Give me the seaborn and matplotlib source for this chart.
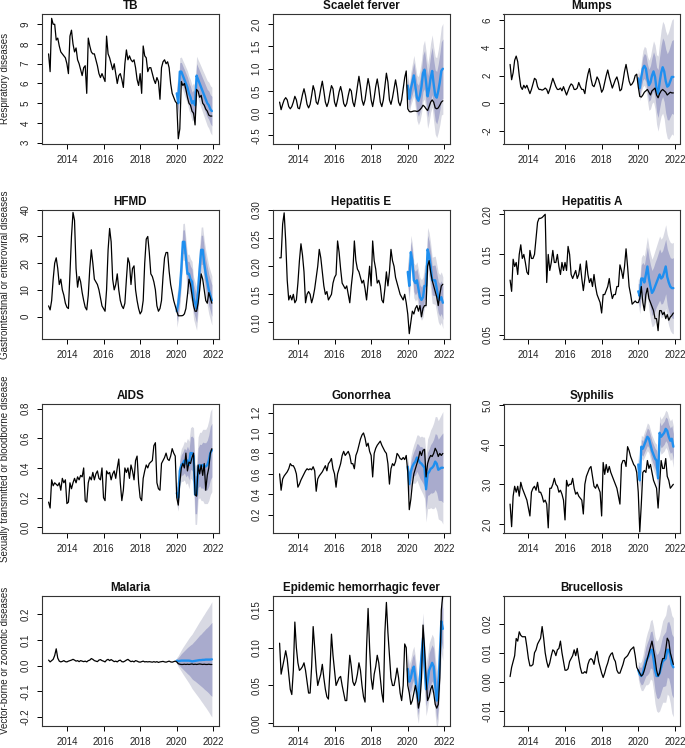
import numpy as np
import pandas as pd
import matplotlib
matplotlib.use("Agg")
import matplotlib.pyplot as plt
import seaborn as sns

# ---------------- data (monthly, Jan 2013 - Dec 2021) ----------------
titles = ["TB", "Scaelet ferver", "Mumps", "HFMD", "Hepatitis E", "Hepatitis A",
          "AIDS", "Gonorrhea", "Syphilis", "Malaria", "Epidemic hemorrhagic fever", "Brucellosis"]
row_labels = ["Respiratory diseases", "Gastrointestinal or enteroviral diseases",
              "Sexually transmitted or bloodborne disease", "Vector-borne or zoonotic diseases"]
x_ticks = [2014, 2016, 2018, 2020, 2022]

tb_actual = [7.5, 6.6, 9.3, 9.0, 9.0, 8.2, 8.3, 7.9, 7.6, 7.5, 7.4, 7.3,
             7.0, 6.5, 8.4, 8.7, 8.0, 7.6, 7.8, 7.2, 7.0, 6.7, 6.4, 6.8,
             6.9, 5.5, 8.3, 7.9, 7.6, 7.5, 7.5, 7.2, 6.9, 6.5, 6.3, 6.5,
             6.3, 6.1, 8.4, 7.5, 7.3, 7.0, 6.7, 7.0, 6.5, 6.0, 6.4, 6.5,
             6.2, 5.8, 7.0, 7.7, 7.2, 7.4, 7.2, 7.1, 7.2, 6.8, 6.2, 5.9,
             6.5, 5.5, 7.9, 7.4, 7.3, 6.6, 6.8, 6.8, 6.5, 6.2, 6.0, 6.3,
             6.1, 5.2, 6.8, 7.1, 7.2, 7.0, 7.1, 6.8, 6.0, 5.5, 5.3, 5.1,
             5.0, 3.2, 3.7, 6.1, 5.9, 6.0, 5.7, 5.3, 5.0, 4.9, 4.6, 4.5,
             3.9, 5.7, 5.6, 5.3, 5.4, 5.0, 4.9, 4.7, 4.6, 4.4, 4.35, 4.35]
tb_fc = [5.5, 5.0, 6.6, 6.6, 6.4, 6.2, 6.0, 5.8, 5.5, 5.3, 5.0, 5.1,
         4.9, 6.4, 6.2, 6.0, 5.8, 5.6, 5.4, 5.2, 5.0, 4.9, 4.7, 4.6]
tb_hw80 = [.42, .44, .45, .47, .48, .50, .51, .52, .54, .55, .56, .58,
           .60, .61, .62, .64, .65, .66, .68, .69, .70, .72, .73, .75]
tb_hw95 = [.66, .69, .71, .74, .76, .79, .81, .83, .86, .88, .90, .93,
           .96, .98, 1.0, 1.03, 1.05, 1.07, 1.1, 1.12, 1.14, 1.17, 1.19, 1.21]

sf_actual = [.25, .08, .20, .30, .35, .30, .15, .10, .15, .25, .38, .30,
             .12, .10, .25, .42, .55, .40, .20, .12, .20, .40, .62, .50,
             .25, .20, .35, .55, .72, .50, .25, .15, .25, .45, .62, .55,
             .25, .15, .30, .48, .60, .45, .22, .15, .22, .40, .55, .50,
             .25, .15, .35, .60, .83, .60, .30, .18, .30, .55, .78, .60,
             .30, .15, .35, .60, .77, .55, .25, .15, .30, .60, .90, .70,
             .30, .20, .35, .55, .75, .55, .25, .17, .30, .55, .80, .95,
             .10, .04, .03, .04, .05, .05, .04, .05, .08, .12, .18, .15,
             .10, .06, .15, .25, .30, .25, .12, .10, .12, .18, .25, .28]
sf_fc = [.62, .32, .55, .70, .85, .60, .35, .28, .40, .60, .90, .98,
         .70, .38, .55, .80, .95, .65, .40, .35, .50, .70, .95, 1.0]
sf_hw80 = [.18, .21, .24, .27, .29, .31, .33, .35, .37, .39, .41, .43,
           .45, .47, .49, .51, .53, .55, .57, .59, .61, .63, .65, .67]
sf_hw95 = [.28, .33, .37, .41, .45, .48, .51, .54, .57, .60, .63, .66,
           .69, .72, .75, .78, .81, .84, .87, .90, .93, .96, .99, 1.02]

mu_actual = [2.8, 1.7, 2.2, 3.1, 3.4, 3.0, 2.0, 1.2, 1.0, 1.3, 1.1, 1.3,
             1.0, 0.7, 1.0, 1.4, 1.8, 1.7, 1.2, 1.0, 1.0, 0.95, 1.0, 1.1,
             1.0, 0.7, 1.0, 1.4, 1.8, 1.5, 1.2, 1.0, 1.0, 1.1, 0.9, 1.2,
             0.9, 0.6, 0.9, 1.2, 1.4, 1.3, 1.0, 1.0, 1.1, 1.5, 1.2, 1.0,
             1.0, 0.7, 1.5, 2.1, 2.5, 1.8, 1.3, 1.2, 1.5, 1.9, 1.7, 1.3,
             0.8, 1.0, 1.5, 2.0, 2.4, 1.9, 1.5, 1.1, 1.4, 1.7, 1.9, 1.5,
             0.9, 1.0, 1.6, 2.3, 2.8, 2.2, 1.6, 1.3, 1.4, 1.6, 2.0, 2.1,
             1.2, 0.5, 0.45, 0.6, 0.8, 0.9, 1.0, 0.8, 0.6, 0.9, 1.0, 1.1,
             0.6, 0.4, 0.7, 0.9, 1.0, 0.9, 0.8, 0.6, 0.7, 0.8, 0.75, 0.75]
mu_fc = [1.8, 1.1, 1.9, 2.5, 2.7, 2.5, 1.8, 1.3, 1.5, 2.0, 2.3, 1.9,
         1.0, 0.7, 1.5, 2.2, 2.6, 2.3, 1.6, 1.2, 1.3, 1.6, 1.9, 1.9]
mu_hw80 = [.45, .58, .70, .83, .90, .96, 1.03, 1.15, 1.22, 1.28, 1.41, 1.47,
           1.6, 1.73, 1.86, 1.98, 2.11, 2.18, 2.3, 2.37, 2.5, 2.56, 2.62, 2.69]
mu_hw95 = [.70, .90, 1.1, 1.3, 1.4, 1.5, 1.6, 1.8, 1.9, 2.0, 2.2, 2.3,
           2.5, 2.7, 2.9, 3.1, 3.3, 3.4, 3.6, 3.7, 3.9, 4.0, 4.1, 4.2]

hf_actual = [4.0, 2.5, 6.0, 14, 20, 22, 18, 12, 14, 10, 8, 5,
             3.5, 3.0, 16, 30, 39, 36, 18, 11, 15, 13, 9, 6,
             3.5, 2.5, 8, 18, 25, 20, 14, 13, 12, 10, 7, 4,
             3, 2, 10, 25, 33, 28, 14, 10, 12, 16, 10, 6,
             4, 3, 5, 14, 22, 20, 12, 18, 19, 10, 6, 3,
             1, 2, 6, 20, 29, 30, 24, 16, 15, 13, 10, 4,
             2, 3, 6, 15, 22, 24, 24, 17, 12, 9, 6, 4,
             2, 0.3, 0.3, 0.3, 0.4, 1, 3, 8, 14, 12, 8, 4,
             2, 2, 5, 10, 16, 14, 10, 6, 5, 9, 7, 5]
hf_fc = [2, 5, 10, 18, 28, 28, 22, 16, 16, 14, 13, 7,
         5, 3, 10, 18, 25, 25, 20, 16, 13, 10, 8, 6]
hf_hw80 = [3.8, 4.0, 4.1, 4.2, 4.4, 4.5, 4.5, 4.7, 4.7, 4.9, 4.9, 5.1,
           5.1, 5.2, 5.3, 5.4, 5.4, 5.5, 5.6, 5.6, 5.7, 5.8, 5.8, 5.9]
hf_hw95 = [6.0, 6.2, 6.4, 6.6, 6.8, 7.0, 7.1, 7.3, 7.4, 7.6, 7.7, 7.9,
           8.0, 8.1, 8.3, 8.4, 8.5, 8.6, 8.7, 8.8, 8.9, 9.0, 9.1, 9.2]

he_actual = [.215, .215, .275, .295, .245, .175, .14, .148, .14, .15, .135, .14,
             .17, .21, .24, .22, .19, .135, .15, .155, .15, .135, .145, .16,
             .18, .20, .23, .215, .19, .165, .15, .155, .14, .145, .15, .17,
             .18, .185, .245, .225, .195, .17, .165, .16, .165, .15, .135, .165,
             .19, .245, .21, .195, .19, .18, .17, .175, .16, .14, .17, .20,
             .165, .245, .21, .195, .17, .175, .165, .14, .135, .16, .19, .165,
             .19, .23, .21, .20, .18, .17, .16, .15, .145, .14, .15, .135,
             .115, .08, .10, .12, .115, .125, .13, .12, .13, .11, .125, .13,
             .13, .20, .21, .19, .175, .165, .155, .145, .13, .15, .165, .168]
he_fc = [.19, .165, .225, .21, .175, .17, .175, .16, .145, .14, .145, .165,
         .165, .23, .22, .20, .175, .175, .175, .16, .145, .14, .145, .135]
he_hw80 = [.018, .019, .019, .020, .020, .021, .021, .022, .022, .023, .023, .024,
           .024, .025, .025, .026, .026, .027, .027, .028, .028, .029, .029, .030]
he_hw95 = [.028, .029, .030, .031, .031, .032, .033, .034, .035, .036, .036, .037,
           .038, .039, .040, .041, .041, .042, .043, .044, .044, .045, .045, .046]

ha_actual = [.118, .104, .144, .135, .14, .125, .15, .162, .145, .15, .14, .128,
             .125, .155, .145, .145, .15, .17, .19, .195, .195, .196, .198, .20,
             .115, .15, .13, .14, .155, .14, .14, .15, .135, .125, .14, .13,
             .14, .13, .16, .15, .125, .12, .125, .13, .12, .125, .138, .12,
             .105, .12, .142, .125, .115, .12, .11, .125, .11, .10, .095, .09,
             .077, .10, .10, .105, .11, .12, .105, .095, .10, .10, .11, .11,
             .137, .13, .12, .135, .157, .135, .11, .10, .088, .09, .092, .09,
             .09, .095, .11, .09, .08, .10, .108, .095, .09, .085, .08, .07,
             .07, .055, .08, .08, .075, .078, .07, .075, .068, .072, .074, .077]
ha_fc = [.104, .098, .12, .12, .115, .125, .135, .12, .11, .102, .105, .11,
         .115, .12, .125, .12, .122, .128, .135, .122, .115, .11, .108, .108]
ha_hw80 = [.010, .015, .017, .020, .022, .023, .024, .026, .027, .028, .029, .030,
           .030, .031, .032, .032, .033, .034, .034, .035, .036, .036, .037, .038]
ha_hw95 = [.015, .022, .026, .030, .033, .035, .037, .039, .041, .042, .044, .045,
           .046, .047, .048, .049, .050, .051, .052, .053, .054, .055, .056, .057]

ai_actual = [.17, .13, .32, .28, .30, .29, .28, .30, .25, .33, .30, .32,
             .16, .17, .30, .26, .30, .33, .30, .34, .32, .35, .34, .40,
             .18, .17, .30, .34, .32, .37, .32, .36, .38, .33, .32, .40,
             .20, .18, .38, .36, .37, .32, .36, .38, .33, .40, .46, .30,
             .18, .25, .40, .37, .40, .33, .42, .38, .32, .45, .48, .30,
             .20, .18, .33, .38, .42, .40, .43, .44, .45, .55, .57, .30,
             .26, .25, .43, .45, .47, .50, .46, .45, .48, .53, .50, .48,
             .20, .15, .30, .40, .43, .40, .50, .38, .44, .43, .47, .50,
             .22, .21, .42, .36, .42, .35, .43, .25, .35, .40, .50, .53]
ai_fc = [.23, .20, .38, .42, .43, .45, .43, .45, .42, .50, .50, .48,
         .22, .22, .40, .42, .41, .42, .41, .41, .42, .45, .50, .52]
ai_hw80 = [.05, .06, .064, .07, .077, .083, .09, .096, .10, .11, .115, .12,
           .128, .128, .134, .14, .147, .154, .16, .16, .166, .173, .18, .18]
ai_hw95 = [.08, .09, .10, .11, .12, .13, .14, .15, .16, .17, .18, .19,
           .20, .20, .21, .22, .23, .24, .25, .25, .26, .27, .28, .28]

go_actual = [.60, .44, .55, .58, .60, .62, .65, .70, .68, .68, .65, .60,
             .47, .50, .54, .57, .60, .63, .65, .64, .65, .64, .67, .63,
             .43, .55, .58, .60, .62, .65, .68, .63, .70, .72, .75, .65,
             .60, .47, .60, .65, .70, .78, .82, .78, .80, .82, .78, .70,
             .70, .65, .78, .82, .88, .94, .98, 1.0, .95, .87, .90, .82,
             .78, .57, .80, .85, .88, .90, .92, .88, .85, .82, .80, .70,
             .50, .65, .70, .68, .72, .80, .78, .75, .74, .76, .74, .78,
             .62, .25, .35, .50, .60, .65, .70, .75, .82, .78, .83, .84,
             .57, .70, .75, .78, .77, .80, .85, .82, .77, .80, .78, .80]
go_fc = [.67, .50, .62, .67, .70, .72, .76, .74, .71, .70, .68, .66,
         .45, .60, .62, .65, .66, .68, .72, .70, .64, .65, .66, .66]
go_hw80 = [.062, .08, .093, .105, .118, .13, .136, .149, .155, .167, .174, .186,
           .198, .21, .223, .236, .248, .26, .273, .285, .298, .31, .322, .34]
go_hw95 = [.10, .13, .15, .17, .19, .21, .22, .24, .25, .27, .28, .30,
           .32, .34, .36, .38, .40, .42, .44, .46, .48, .50, .52, .55]

sy_actual = [2.5, 1.93, 2.7, 2.95, 2.8, 2.95, 2.7, 3.05, 2.9, 2.8, 2.7, 2.6,
             2.4, 2.2, 2.8, 2.9, 2.95, 2.85, 3.05, 2.8, 2.8, 2.7, 2.55, 2.6,
             2.5, 1.9, 2.9, 2.9, 3.0, 3.15, 3.0, 2.95, 2.8, 2.85, 2.75, 2.6,
             2.1, 3.1, 2.95, 3.0, 3.0, 3.15, 2.9, 2.75, 2.8, 2.7, 2.65, 2.6,
             2.25, 3.0, 3.2, 3.3, 3.4, 3.45, 3.2, 2.95, 2.9, 3.0, 2.9, 2.8,
             2.2, 3.55, 3.25, 3.5, 3.3, 3.45, 3.3, 3.2, 3.1, 3.0, 2.9, 2.7,
             2.5, 3.5, 3.6, 3.6, 3.45, 3.95, 3.85, 3.7, 3.6, 3.5, 3.45, 3.3,
             2.8, 1.8, 2.5, 3.3, 3.35, 3.3, 3.6, 3.4, 3.5, 3.3, 3.1, 3.0,
             2.9, 2.4, 3.0, 3.6, 3.4, 3.4, 3.65, 3.2, 3.1, 2.9, 2.95, 3.0]
sy_fc = [3.5, 3.1, 3.95, 3.9, 4.0, 4.1, 4.2, 4.15, 4.0, 3.85, 3.75, 3.65,
         3.6, 3.15, 4.3, 4.2, 4.25, 4.3, 4.4, 4.35, 4.2, 4.1, 4.15, 3.95]
sy_hw80 = [.16, .17, .19, .19, .20, .21, .22, .23, .24, .24, .25, .26,
           .26, .27, .28, .28, .29, .29, .30, .31, .31, .32, .33, .33]
sy_hw95 = [.25, .27, .29, .30, .32, .33, .35, .36, .37, .38, .39, .40,
           .41, .42, .43, .44, .45, .46, .47, .48, .49, .50, .51, .52]

ma_actual = [.022, .015, .020, .025, .040, .066, .030, .018, .015, .017, .020, .016,
             .015, .018, .020, .022, .025, .022, .018, .020, .016, .020, .018, .016,
             .018, .015, .020, .022, .028, .025, .020, .018, .016, .022, .024, .020,
             .018, .015, .022, .025, .020, .024, .020, .016, .018, .015, .020, .022,
             .016, .015, .018, .022, .025, .020, .016, .018, .015, .020, .018, .015,
             .014, .016, .018, .015, .016, .015, .016, .015, .014, .016, .014, .016,
             .013, .015, .016, .017, .015, .014, .016, .018, .015, .014, .016, .018,
             .015, .008, .006, .005, .005, .006, .005, .006, .005, .006, .007, .005,
             .006, .005, .006, .007, .006, .005, .006, .005, .005, .006, .005, .005]
ma_fc = [.020, .018, .019, .020, .020, .020, .020, .020, .020, .019, .017, .018,
         .019, .020, .021, .022, .022, .023, .023, .024, .024, .024, .024, .025]
ma_hw80 = [.008, .014, .020, .027, .033, .039, .045, .051, .056, .062, .068, .074,
           .079, .085, .091, .097, .102, .108, .114, .120, .125, .131, .138, .144]
ma_hw95 = [.012, .022, .032, .042, .052, .061, .070, .079, .088, .097, .106, .115,
           .124, .133, .142, .151, .160, .169, .178, .187, .196, .205, .215, .225]

eh_actual = [.106, .065, .075, .085, .096, .085, .065, .045, .038, .07, .134, .10,
             .08, .07, .072, .075, .08, .07, .055, .04, .04, .075, .128, .10,
             .07, .05, .058, .065, .078, .06, .045, .035, .032, .07, .118, .09,
             .07, .05, .055, .06, .062, .05, .04, .03, .03, .06, .09, .075,
             .055, .05, .055, .065, .08, .07, .05, .035, .028, .10, .152, .10,
             .06, .045, .065, .075, .09, .08, .06, .04, .028, .12, .16, .12,
             .09, .06, .05, .05, .06, .073, .06, .04, .03, .05, .105, .10,
             .05, .04, .025, .03, .04, .05, .04, .02, .03, .06, .13, .10,
             .06, .03, .035, .045, .05, .04, .025, .02, .025, .06, .15, .17]
eh_fc = [.072, .055, .06, .07, .075, .06, .04, .03, .06, .09, .113, .075,
         .045, .055, .07, .075, .08, .075, .05, .03, .045, .09, .135, .125]
eh_hw80 = [.014, .015, .016, .017, .017, .018, .019, .019, .020, .020, .021, .022,
           .022, .022, .023, .024, .024, .024, .025, .026, .026, .026, .027, .027]
eh_hw95 = [.022, .024, .025, .026, .027, .028, .029, .030, .031, .032, .033, .034,
           .035, .035, .036, .037, .038, .038, .039, .040, .040, .041, .042, .042]

br_actual = [.0018, .005, .007, .009, .0149, .014, .0172, .016, .0155, .0155, .0155, .012,
             .008, .0055, .0055, .006, .010, .011, .013, .014, .015, .019, .015, .010,
             .007, .005, .0065, .009, .011, .0105, .009, .011, .0115, .014, .010, .007,
             .004, .004, .0045, .007, .008, .009, .011, .009, .0115, .008, .005, .003,
             .003, .0035, .003, .006, .0075, .008, .0075, .006, .009, .0105, .007, .005,
             .003, .0015, .003, .005, .0065, .0085, .0095, .010, .008, .007, .004, .003,
             .003, .0045, .006, .008, .0085, .009, .010, .011, .0115, .012, .009, .005,
             .004, .003, .002, .0025, .004, .006, .008, .010, .012, .014, .011, .008,
             .004, .002, .003, .006, .008, .008, .011, .015, .014, .010, .008, .006]
br_fc = [.004, .0025, .002, .003, .005, .007, .008, .009, .011, .011, .008, .004,
         .002, .002, .003, .005, .007, .0075, .008, .011, .011, .009, .006, .005]
br_hw80 = [.0019, .0025, .0031, .0037, .0043, .005, .0056, .0059, .0062, .0065, .0068, .0071,
           .0074, .0078, .0081, .0084, .0087, .009, .0093, .0094, .0098, .0101, .0104, .0105]
br_hw95 = [.003, .004, .005, .006, .007, .008, .009, .0095, .010, .0105, .011, .0115,
           .012, .0125, .013, .0135, .014, .0145, .015, .0152, .0158, .0163, .0168, .017]

# y-axis ticks (labels as printed)
y_ticks = [
    ([3, 4, 5, 6, 7, 8, 9], ["3", "4", "5", "6", "7", "8", "9"]),
    ([-0.5, 0, 0.5, 1.0, 1.5, 2.0], ["-0.5", "0.0", "0.5", "1.0", "1.5", "2.0"]),
    ([-2, 0, 2, 4, 6], ["-2", "0", "2", "4", "6"]),
    ([0, 10, 20, 30, 40], ["0", "10", "20", "30", "40"]),
    ([0.10, 0.15, 0.20, 0.25, 0.30], ["0.10", "0.15", "0.20", "0.25", "0.30"]),
    ([0.05, 0.10, 0.15, 0.20], ["0.05", "0.10", "0.15", "0.20"]),
    ([0.0, 0.2, 0.4, 0.6, 0.8], ["0.0", "0.2", "0.4", "0.6", "0.8"]),
    ([0.2, 0.4, 0.6, 0.8, 1.0, 1.2], ["0.2", "0.4", "0.6", "0.8", "1.0", "1.2"]),
    ([2.0, 3.0, 4.0, 5.0], ["2.0", "3.0", "4.0", "5.0"]),
    ([-0.2, -0.1, 0.0, 0.1, 0.2], ["-0.2", "-0.1", "0.0", "0.1", "0.2"]),
    ([0.00, 0.05, 0.10, 0.15], ["0.00", "0.05", "0.10", "0.15"]),
    ([-0.01, 0.00, 0.01, 0.02], ["-0.01", "0.00", "0.01", "0.02"]),
]

# ---------------- layout / style ----------------
y_limits = [(2.96, 9.52), (-0.68, 2.23), (-2.89, 6.43), (-8.4, 40.1),
            (0.0705, 0.301), (0.0446, 0.206), (-0.038, 0.834), (0.022, 1.288),
            (1.77, 5.04), (-0.233, 0.272), (-0.003, 0.1685), (-0.0150, 0.0295)]

series = [
    (tb_actual, tb_fc, tb_hw80, tb_hw95), (sf_actual, sf_fc, sf_hw80, sf_hw95),
    (mu_actual, mu_fc, mu_hw80, mu_hw95), (hf_actual, hf_fc, hf_hw80, hf_hw95),
    (he_actual, he_fc, he_hw80, he_hw95), (ha_actual, ha_fc, ha_hw80, ha_hw95),
    (ai_actual, ai_fc, ai_hw80, ai_hw95), (go_actual, go_fc, go_hw80, go_hw95),
    (sy_actual, sy_fc, sy_hw80, sy_hw95), (ma_actual, ma_fc, ma_hw80, ma_hw95),
    (eh_actual, eh_fc, eh_hw80, eh_hw95), (br_actual, br_fc, br_hw80, br_hw95),
]
for i, (a, f, h8, h9) in enumerate(series):
    assert len(a) == 108, (titles[i], "actual", len(a))
    assert len(f) == 24 and len(h8) == 24 and len(h9) == 24, (titles[i], len(f), len(h8), len(h9))

t_all = 2013 + np.arange(108) / 12.0
t_fc = t_all[84:]

sns.set_theme(style="white")
plt.rcParams['font.family'] = ['Liberation Sans', 'DejaVu Sans']

W, H = 685, 748
fig = plt.figure(figsize=(W / 100, H / 100), dpi=100)

col_left = [42, 273, 503.5]
row_top = [14, 209.5, 403.5, 596.0]
box_w, box_h = 176.5, 129.5

C95 = "#D8D9E3"
C80 = "#A9ABCD"
CBLUE = "#1F8FEF"

for i in range(12):
    r, c = divmod(i, 3)
    ax = fig.add_axes([col_left[c] / W, 1 - (row_top[r] + box_h) / H, box_w / W, box_h / H])
    actual, fc, hw80, hw95 = [np.asarray(v, float) for v in series[i]]

    df_fc = pd.DataFrame({"t": t_fc, "fc": fc,
                          "lo80": fc - hw80, "hi80": fc + hw80,
                          "lo95": fc - hw95, "hi95": fc + hw95})
    df_act = pd.DataFrame({"t": t_all, "value": actual})

    ax.fill_between(df_fc["t"], df_fc["lo95"], df_fc["hi95"], color=C95, lw=0, zorder=1)
    ax.fill_between(df_fc["t"], df_fc["lo80"], df_fc["hi80"], color=C80, lw=0, zorder=2)
    sns.lineplot(data=df_fc, x="t", y="fc", ax=ax, color=CBLUE, lw=1.7, sort=False, zorder=3)
    sns.lineplot(data=df_act, x="t", y="value", ax=ax, color="black", lw=0.9, sort=False, zorder=4)

    ax.set_xlim(2012.64, 2022.28)
    ax.set_ylim(*y_limits[i])
    ax.set_xticks(x_ticks)
    ax.set_xticklabels([str(v) for v in x_ticks])
    yt, yl = y_ticks[i]
    ax.set_yticks(yt)
    ax.set_yticklabels(yl)
    for lab in ax.get_yticklabels():
        lab.set_rotation(90)
        lab.set_va("center")
        lab.set_ha("right")
    ax.tick_params(axis="both", direction="out", length=3.6, width=0.7, color="black",
                   labelsize=7, labelcolor="#222222", bottom=True, left=True)
    ax.tick_params(axis="x", pad=4.5)
    ax.tick_params(axis="y", pad=4.5)
    ax.set_xlabel("")
    ax.set_ylabel("")
    for sp in ax.spines.values():
        sp.set_visible(True)
        sp.set_color("#333333")
        sp.set_linewidth(0.8)
    ax.set_title(titles[i], fontsize=8.4, fontweight="bold", pad=3.5, color="#111111")
    ax.grid(False)
    ax.set_facecolor("white")

for r in range(4):
    yc = 1 - (row_top[r] + box_h / 2) / H
    fig.text(0.0075, yc, row_labels[r], rotation=90, ha="center", va="center",
             fontsize=7, color="#222222")

fig.savefig("out.png", dpi=100, facecolor="white")
